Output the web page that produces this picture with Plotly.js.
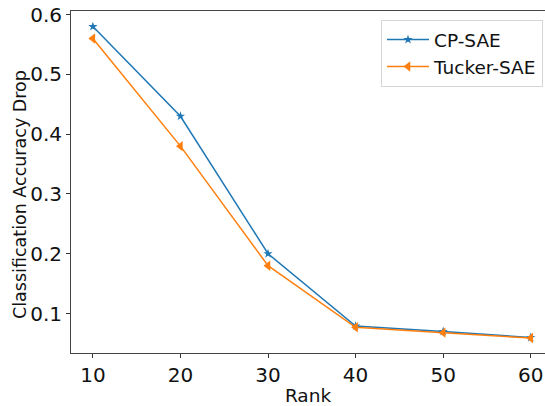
<!DOCTYPE html>
<html>
<head>
<meta charset="utf-8">
<script src="https://cdn.plot.ly/plotly-3.0.1.min.js"></script>
<style>html,body{margin:0;padding:0;background:#fff;}#chart{width:545px;height:406px;}</style>
</head>
<body>
<div id="chart"></div>
<script>
var ranks = [10, 20, 30, 40, 50, 60];
var cpSae = [0.58, 0.43, 0.20, 0.079, 0.070, 0.060];
var tuckerSae = [0.56, 0.38, 0.18, 0.077, 0.068, 0.059];
var seriesNames = ["CP-SAE", "Tucker-SAE"];
var yTicks = [0.1, 0.2, 0.3, 0.4, 0.5, 0.6];
var yTitle = "Classification Accuracy Drop";

var font = "DejaVu Sans, sans-serif";
var L = 71, T = 11, B = 53, W = 545, H = 406;
var traces = [
  {x: ranks, y: cpSae, name: seriesNames[0], mode: "lines+markers", type: "scatter",
   line: {color: "#1f77b4", width: 1.5},
   marker: {symbol: "star", size: 7, color: "#1f77b4"}},
  {x: ranks, y: tuckerSae, name: seriesNames[1], mode: "lines+markers", type: "scatter",
   line: {color: "#ff7f0e", width: 1.5},
   marker: {symbol: "triangle-left", size: 9, color: "#ff7f0e"}}
];
var pw = W - L, ph = H - T - B;
var layout = {
  width: W, height: H,
  margin: {l: L, r: 0, t: T, b: B},
  paper_bgcolor: "#fff", plot_bgcolor: "#fff",
  font: {family: font, size: 20, color: "#111"},
  showlegend: true,
  legend: {x: (543 - L) / pw, y: 1 - (20 - T) / ph, xanchor: "right", yanchor: "top",
           bgcolor: "rgba(255,255,255,0.8)", bordercolor: "#d6d6d6", borderwidth: 1,
           font: {family: font, size: 18.5, color: "#111"}, itemwidth: 42},
  xaxis: {range: [7.5, 61.63], tickvals: ranks, ticks: "outside", ticklen: 4, tickwidth: 1,
          tickcolor: "#333", showline: true, linecolor: "#444", linewidth: 1, mirror: true,
          showgrid: false, zeroline: false, tickfont: {family: font, size: 20},
          title: {text: "Rank", font: {family: font, size: 18.5}, standoff: 3}},
  yaxis: {range: [0.034, 0.606], tickvals: yTicks, tickformat: ".1f", ticks: "outside",
          ticklen: 4, tickwidth: 1, tickcolor: "#333", showline: true, linecolor: "#444",
          linewidth: 1, showgrid: false, zeroline: false, tickfont: {family: font, size: 20}},
  annotations: [{text: yTitle, xref: "paper", yref: "paper", x: (20 - L) / pw, y: 0.5 - 13 / ph,
                 xanchor: "center", yanchor: "middle", textangle: -90, showarrow: false,
                 font: {family: font, size: 17.5, color: "#111"}}]
};
Plotly.newPlot("chart", traces, layout, {displayModeBar: false, staticPlot: true});
</script>
</body>
</html>
